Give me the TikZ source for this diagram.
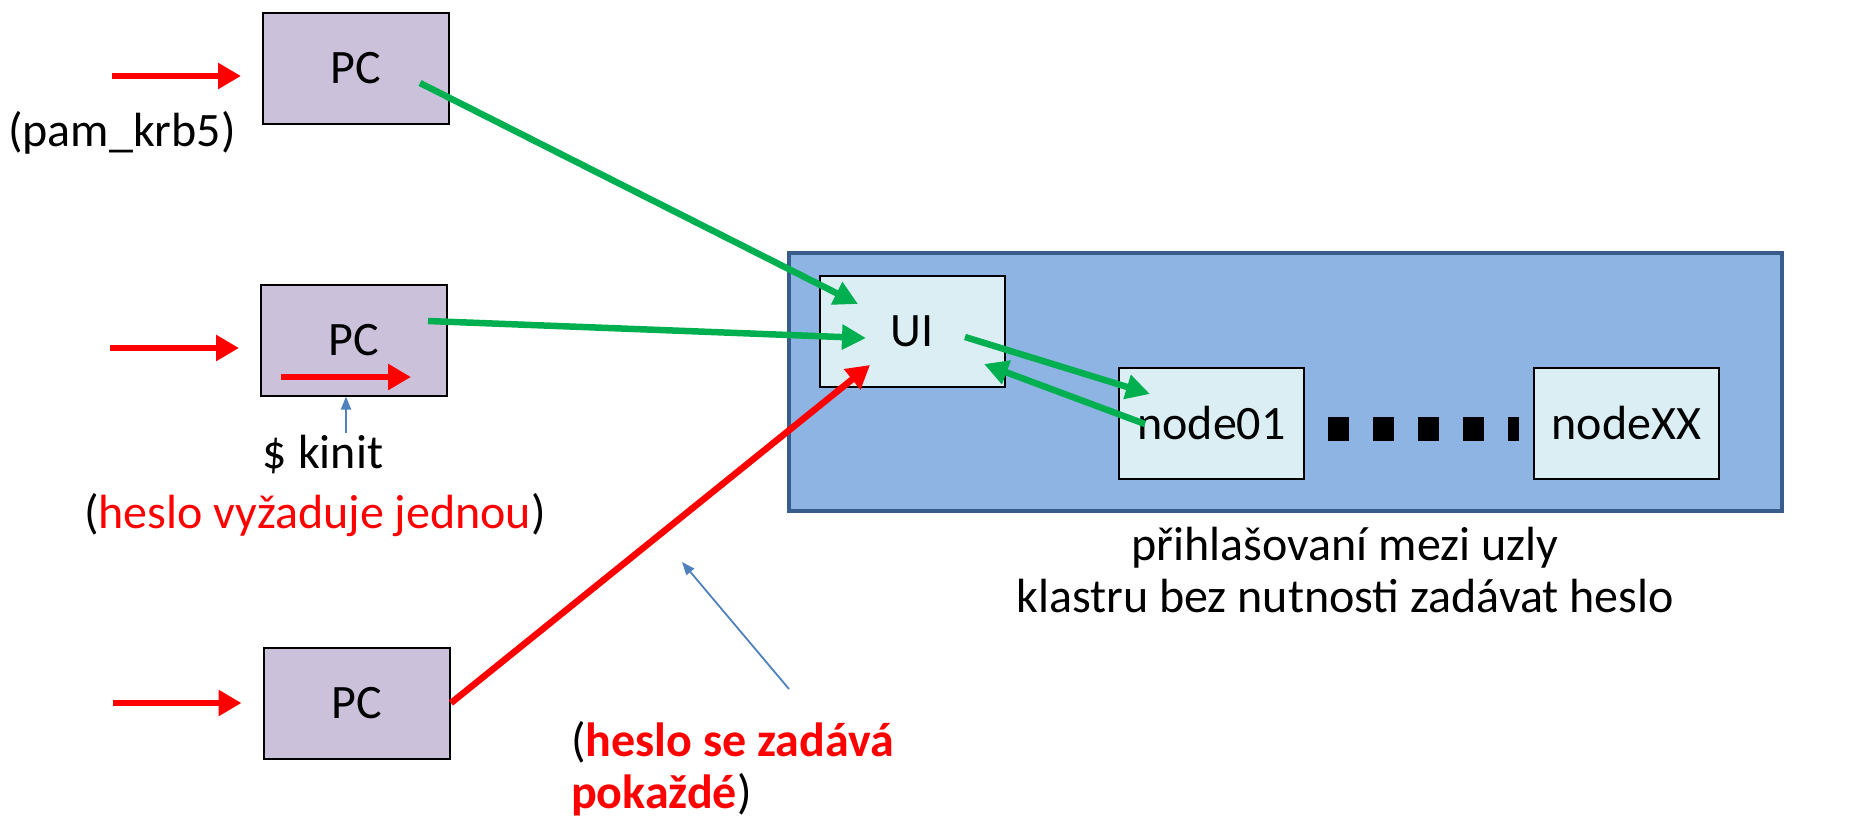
\documentclass[tikz,border=0pt]{standalone}
\usepackage{fontspec}
\setmainfont{Carlito}
\usetikzlibrary{arrows.meta,calc}
\definecolor{pcfill}{HTML}{CCC1DA}
\definecolor{clfill}{HTML}{8DB4E2}
\definecolor{cldraw}{HTML}{385D8A}
\definecolor{uifill}{HTML}{DBEEF4}
\definecolor{grn}{HTML}{00B050}
\definecolor{rd}{HTML}{FF0000}
\definecolor{bl}{HTML}{4F81BD}
\tikzset{
  pcbox/.style={draw=black,line width=2pt,fill=pcfill,minimum width=186pt,minimum height=111pt,inner sep=0pt,font=\fontsize{48}{48}\selectfont},
  uibox/.style={draw=black,line width=2pt,fill=uifill,minimum width=185pt,minimum height=111pt,inner sep=0pt,font=\fontsize{48}{48}\selectfont},
  clbox/.style={draw=cldraw,line width=4pt,fill=clfill,minimum width=993pt,minimum height=258pt,inner sep=0pt},
  lbl/.style={inner sep=0pt,font=\fontsize{48}{48}\selectfont},
  lbltwo/.style={inner sep=0pt,font=\fontsize{48}{52}\selectfont},
  redarr/.style={draw=rd,line width=6.5pt,-{Triangle[length=23pt,width=25pt]}},
  grnarr/.style={draw=grn,line width=6.5pt,-{Triangle[length=24pt,width=24pt]}},
  blarr/.style={draw=bl,line width=1.8pt,-{Triangle[length=13pt,width=10pt]}},
  dotline/.style={draw=black,line width=24pt,dash pattern=on 21pt off 24pt}
}
\begin{document}
\begin{tikzpicture}[x=1pt,y=-1pt]
\useasboundingbox (0,0) rectangle (1876,819);
% cluster
\node[clbox] (cluster) at (1285.5,382) {};
\node[uibox] (ui) at (912,331) {UI};
\node[uibox] (n01) at (1211.5,423) {node01};
\node[uibox] (nxx) at (1626.5,423) {nodeXX};
\draw[dotline] ($(n01.east)+(23,6)$) -- ($(nxx.west)+(-14,6)$);
% PCs
\node[pcbox] (pc1) at (356,68) {PC};
\node[pcbox] (pc2) at (354,340) {PC};
\node[pcbox] (pc3) at (356.5,703) {PC};
% input arrows
\coordinate (in1) at (112,76);
\coordinate (in2) at (110,348);
\coordinate (in3) at (113,703);
\draw[redarr] (in1) -- ($(in1 -| pc1.west)+(-21,0)$);
\draw[redarr] (in2) -- ($(in2 -| pc2.west)+(-21,0)$);
\draw[redarr] (in3) -- ($(in3 -| pc3.west)+(-21,0)$);
% inner red arrow in PC2
\coordinate (k1) at (281,377);
\coordinate (k2) at (411,377);
\draw[redarr] (k1) -- (k2);
% labels
\node[lbl] (pam) at (122,133) {(pam\_krb5)};
\node[lbl] (kinit) at (323,455) {\$ kinit};
\node[lbl] (once) at (315,515) {(\textcolor{rd}{heslo vyžaduje jednou})};
\node[lbltwo,align=left,anchor=west] (every) at (571,769) {(\textcolor{rd}{\bfseries heslo se zadává}\\\textcolor{rd}{\bfseries pokaždé})};
\node[lbltwo,align=center] (bottom) at (1345,570) {přihlašovaní mezi uzly\\klastru bez nutnosti zadávat heslo};
% blue arrows
\coordinate (kb) at (346,433);
\draw[blarr] (kb) -- (kb |- pc2.south);
\coordinate (bs) at (789,689);
\coordinate (be) at (682,562);
\draw[blarr] (bs) -- (be);
% green connectors
\coordinate (g1s) at (420,83);
\coordinate (g1e) at (858,304);
\coordinate (g2s) at (428,321);
\coordinate (g2e) at (866,338);
\coordinate (g3s) at (965,337);
\coordinate (g3e) at (1150,394);
\coordinate (g4s) at (1145,424);
\coordinate (g4e) at (984,364);
\draw[grnarr] (g1s) -- (g1e);
\draw[grnarr] (g2s) -- (g2e);
\draw[grnarr] (g3s) -- (g3e);
\draw[grnarr] (g4s) -- (g4e);
% red connector
\coordinate (r3s) at (451,703);
\coordinate (r3e) at (870,365);
\draw[redarr] (r3s) -- (r3e);
\end{tikzpicture}
\end{document}
